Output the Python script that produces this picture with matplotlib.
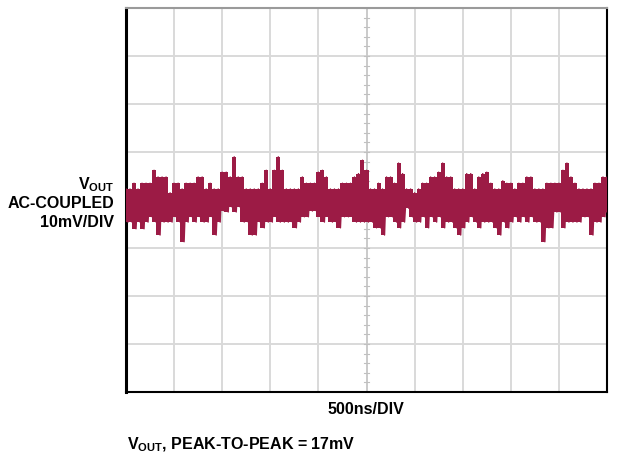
import numpy as np
import matplotlib
matplotlib.use("Agg")
import matplotlib.pyplot as plt

plt.rcParams['font.family'] = ['Liberation Sans', 'DejaVu Sans']
plt.rcParams['mathtext.fontset'] = 'custom'
plt.rcParams['mathtext.rm'] = 'Liberation Sans:bold'
plt.rcParams['mathtext.it'] = 'Liberation Sans:bold'
plt.rcParams['mathtext.bf'] = 'Liberation Sans:bold'

# Noise envelope (mV) read per ~4px slice across 10 divisions (500ns/div)
hi_mv = [2.3, 2.3, 3.5, 2.3, 3.5, 3.5, 3.5, 6.2, 4.8, 4.8,
         4.8, 1.5, 3.5, 3.5, 2.3, 3.5, 3.5, 3.5, 4.8, 4.8,
         2.3, 3.5, 2.3, 2.3, 5.8, 5.8, 4.8, 9.0, 4.8, 4.8,
         2.3, 2.3, 2.3, 2.3, 3.5, 6.2, 2.3, 6.2, 9.0, 6.2,
         2.3, 2.3, 2.3, 2.3, 4.8, 3.5, 3.5, 3.5, 5.8, 6.2,
         4.8, 2.3, 2.3, 2.3, 3.5, 3.5, 3.5, 4.8, 5.5, 8.3,
         6.2, 2.3, 2.3, 3.5, 2.3, 4.8, 4.8, 3.5, 7.7, 5.5,
         2.3, 2.3, 1.5, 2.3, 3.5, 3.5, 4.8, 4.8, 5.8, 7.7,
         4.8, 4.8, 2.3, 2.3, 2.3, 5.5, 5.5, 2.3, 4.8, 5.5,
         5.8, 3.5, 2.3, 2.3, 4.0, 3.5, 3.5, 2.3, 3.5, 3.5,
         4.8, 4.8, 2.3, 2.3, 2.3, 3.5, 3.5, 3.5, 3.5, 6.2,
         7.7, 4.8, 3.5, 2.3, 2.3, 2.3, 2.3, 3.5, 3.5, 4.8,
         4.8]
lo_mv = [-4.6, -4.6, -6.0, -4.6, -6.0, -4.6, -3.5, -4.6, -7.3, -4.6,
         -4.6, -4.6, -3.5, -4.6, -8.7, -4.6, -3.5, -4.6, -3.5, -4.6,
         -4.6, -3.5, -7.3, -4.6, -2.3, -2.5, -1.5, -2.5, -1.5, -4.6,
         -4.6, -7.3, -7.3, -4.6, -5.8, -4.6, -4.6, -3.5, -4.6, -4.6,
         -4.6, -4.6, -5.8, -4.6, -3.5, -3.5, -2.3, -2.3, -3.5, -4.6,
         -3.5, -4.6, -4.6, -5.8, -3.5, -3.5, -3.5, -4.6, -4.6, -4.6,
         -4.6, -4.6, -5.8, -5.8, -7.3, -3.5, -3.5, -4.6, -5.8, -4.6,
         -1.7, -3.5, -4.6, -4.6, -3.5, -5.8, -3.5, -4.6, -3.5, -5.8,
         -4.6, -4.6, -5.8, -7.3, -5.8, -4.6, -3.5, -4.6, -5.8, -4.6,
         -4.6, -4.6, -5.8, -7.3, -4.6, -5.8, -4.6, -3.5, -4.6, -3.5,
         -4.6, -3.5, -4.6, -4.6, -8.7, -5.8, -5.8, -2.5, -2.5, -5.8,
         -4.6, -4.6, -4.6, -4.6, -3.5, -3.5, -7.3, -4.6, -4.6, -3.5,
         -2.5]

n_div_x = 10
n_div_y = 8
mv_per_div = 10.0

trace_color = '#9C1B45'

hi = np.array(hi_mv) / mv_per_div
lo = np.array(lo_mv) / mv_per_div
n = len(hi)
t = np.linspace(0, n_div_x, n)

fig = plt.figure(figsize=(6.26, 4.59), dpi=100)
ax = fig.add_axes([126/626, 1-392/459, (607-126)/626, (392-8)/459])
ax.set_xlim(0, n_div_x)
ax.set_ylim(-n_div_y/2, n_div_y/2)

# grid
for xv in range(1, n_div_x):
    ax.axvline(xv, color='#d9d9d9', lw=1.4, zorder=1)
for yv in range(-n_div_y//2 + 1, n_div_y//2):
    ax.axhline(yv, color='#d9d9d9', lw=1.4, zorder=1)
ax.axvline(5, color='#c8c8c8', lw=1.2, zorder=1)
ax.axhline(0, color='#c8c8c8', lw=1.2, zorder=1)

# minor ticks on centre lines
for yv in np.arange(-4, 4.001, 0.2):
    ax.plot([4.95, 5.05], [yv, yv], color='#c0c0c0', lw=0.8, zorder=1)
for xv in np.arange(0, 10.001, 0.2):
    ax.plot([xv, xv], [-0.05, 0.05], color='#c0c0c0', lw=0.8, zorder=1)

# trace: filled extremes per slice plus zig-zag texture
ax.fill_between(t, lo, hi, step='mid', color=trace_color, lw=0, zorder=3)
tz = np.repeat(t, 2)
tz[1::2] += (t[1] - t[0]) * 0.5
tz = np.clip(tz, 0, n_div_x)
vz = np.empty(2 * n)
vz[0::2] = hi
vz[1::2] = lo
ax.plot(tz, vz, color=trace_color, lw=1.0, zorder=3)

ax.set_xticks([])
ax.set_yticks([])
for s in ['left', 'bottom', 'right']:
    ax.spines[s].set_color('black')
    ax.spines[s].set_linewidth(1.5)
ax.spines['left'].set_linewidth(2.2)
ax.spines['top'].set_color('#9a9a9a')
ax.spines['top'].set_linewidth(1.5)

fs = 11.5
fig.text(114/626, 1-185/459, r'V$_{\rm OUT}$', ha='right', va='center',
         fontsize=fs, fontweight='bold')
fig.text(114/626, 1-203/459, 'AC-COUPLED', ha='right', va='center',
         fontsize=fs, fontweight='bold')
fig.text(114/626, 1-222/459, '10mV/DIV', ha='right', va='center',
         fontsize=fs, fontweight='bold')
fig.text(366/626, 1-410/459, '500ns/DIV', ha='center', va='center',
         fontsize=fs, fontweight='bold')
fig.text(127/626, 1-445/459, r'V$_{\rm OUT}$, PEAK-TO-PEAK = 17mV', ha='left',
         va='center', fontsize=fs, fontweight='bold')

fig.savefig('out.png', dpi=100)
